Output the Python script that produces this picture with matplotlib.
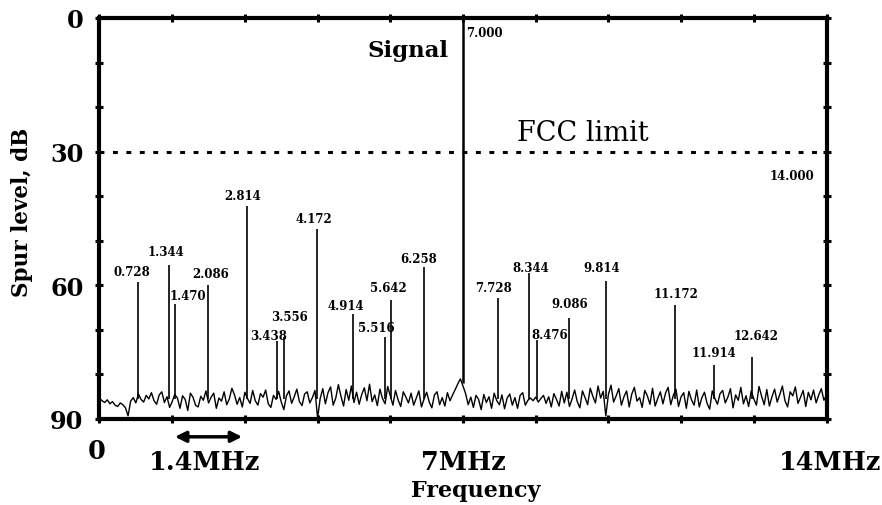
import numpy as np
import matplotlib
matplotlib.use("Agg")
import matplotlib.pyplot as plt

# noise floor, one value every 0.05 MHz (dB below signal)
noise_step = 0.05
noise_floor = [
    85.4, 85.9, 86.3, 85.7, 86.6, 86.1, 86.9, 87.2, 86.4, 86.8,
    87.5, 89.3, 86.0, 85.2, 86.4, 84.4, 85.6, 86.2, 84.7, 85.5,
    84.1, 85.9, 86.7, 84.6, 83.9, 86.3, 85.0, 87.4, 86.1, 84.5,
    85.3, 87.6, 84.8, 85.6, 88.1, 84.2, 85.1, 86.9, 87.3, 84.9,
    85.8, 83.7, 86.4, 85.1, 84.2, 87.6, 85.3, 86.0, 83.9, 86.8,
    85.5, 83.1, 84.6, 86.7, 85.2, 87.3, 84.0, 85.4, 86.5, 83.6,
    85.9, 86.9, 84.3, 85.1, 83.5, 86.6, 87.4, 84.7, 85.6, 83.8,
    86.2, 87.9, 84.8, 83.7, 86.5, 85.0, 83.3, 86.1, 87.0, 84.4,
    83.9, 86.4, 85.2, 83.6, 89.8, 85.4, 83.2, 86.6, 84.1, 82.8,
    86.9, 85.3, 82.3, 84.9, 87.1, 83.4, 85.8, 82.6, 86.3, 84.0,
    86.7, 84.5, 83.0, 85.9, 82.2, 86.1, 84.6, 87.0, 83.3, 85.4,
    86.6, 82.7, 84.8, 86.9, 83.6, 85.7, 87.2, 83.9, 85.1, 86.4,
    84.2, 86.9, 85.3, 83.7, 87.3, 85.5, 84.0, 86.2, 87.5, 84.6,
    83.9, 86.8, 85.2, 87.1, 84.1, 85.9, 84.6, 83.4, 82.1, 81.0,
    82.6, 84.3, 86.8, 85.1, 87.4, 84.7, 85.6, 87.9, 84.5, 86.3,
    85.0, 87.6, 84.2, 85.9, 86.8, 84.6, 87.7, 85.3, 84.4, 86.9,
    85.2, 87.6, 84.7, 84.1, 86.9, 85.8, 85.3, 85.9, 85.1, 86.2,
    85.4, 84.7, 86.5, 85.0, 87.3, 84.3, 85.6, 87.1, 83.8, 86.4,
    84.0, 87.2, 85.5, 83.5, 86.1, 87.5, 83.7, 85.2, 86.8, 83.1,
    84.9, 86.4, 82.6, 85.3, 83.8, 89.3, 84.5, 82.4, 86.2, 84.8,
    83.2, 86.9, 85.0, 83.7, 87.3, 84.4, 82.9, 86.0, 85.2, 87.4,
    83.6, 84.8, 86.7, 83.1, 87.1, 85.4, 83.9, 86.6, 84.2, 82.9,
    86.8, 84.7, 83.3, 87.2, 85.0, 84.1, 87.6, 83.8, 85.7, 86.9,
    83.5, 87.3, 85.2, 84.0, 86.5, 87.8, 83.7, 85.4, 86.7, 84.3,
    83.6, 86.4, 85.1, 83.2, 87.5, 84.6, 85.8, 82.9, 86.6, 84.8,
    87.2, 83.7, 85.5, 86.9, 82.7, 84.9, 86.8, 83.4, 87.1, 85.0,
    83.3, 86.2, 84.5, 82.6, 85.9, 87.3, 83.9, 84.8, 82.8, 86.5,
    85.1, 83.6, 87.2, 84.0, 85.7, 83.5, 86.4, 84.6, 83.2, 85.8,
    84.6,
]

# spurs: where the line sits, how high it goes, and its printed label
spur_freq = [0.74, 1.33, 1.46, 2.08, 2.84, 3.41, 3.55, 4.18, 4.88, 5.50,
             5.62, 6.24, 7.00, 7.67, 8.28, 8.43, 9.05, 9.75, 11.09,
             11.84, 12.57]
spur_level = [59.3, 55.4, 64.3, 60.0, 42.1, 72.6, 71.5, 47.3, 66.4, 71.5,
              63.4, 55.9, 0.0, 62.9, 57.2, 72.3, 67.3, 59.1, 64.5,
              77.8, 76.1]
spur_labels = ["0.728", "1.344", "1.470", "2.086", "2.814", "3.438",
               "3.556", "4.172", "4.914", "5.516", "5.642", "6.258",
               "7.000", "7.728", "8.344", "8.476", "9.086", "9.814",
               "11.172", "11.914", "12.642"]

fcc_limit = 30
x_labels = ["0", "1.4MHz", "7MHz", "14MHz"]
y_labels = ["0", "30", "60", "90"]

# where each spur label is written (MHz, dB)
label_pos = [(0.63, 57.0), (1.27, 52.5), (1.71, 62.3), (2.14, 57.4),
             (2.76, 39.9), (3.25, 71.2), (3.65, 67.1), (4.13, 45.1),
             (4.75, 64.5), (5.34, 69.4), (5.56, 60.6), (6.14, 54.0),
             (7.41, 3.2), (7.59, 60.4), (8.31, 55.9), (8.66, 71.1),
             (9.05, 64.1), (9.68, 56.1), (11.10, 61.9), (11.84, 75.0),
             (12.64, 71.2)]


def main():
    plt.rcParams['font.family'] = 'DejaVu Serif'
    plt.rcParams['font.weight'] = 'bold'

    fig = plt.figure(figsize=(8.82, 5.06), dpi=100)
    ax = fig.add_axes([0.1128, 0.170, 0.8243, 0.7925])

    freqs = np.arange(len(noise_floor)) * noise_step
    ax.plot(freqs, noise_floor, color='black', linewidth=1.0)

    # spur lines rise from the floor
    for f, lvl in zip(spur_freq, spur_level):
        lw = 1.8 if lvl == 0 else 1.2
        ax.vlines(f, 85.5 if lvl else 82.0, lvl, color='black', linewidth=lw)

    for (lx, ly), txt in zip(label_pos, spur_labels):
        ax.text(lx, ly, txt, fontsize=8.5, ha='center', va='center')
    ax.text(13.34, 35.4, "14.000", fontsize=8.5, ha='center', va='center')

    ax.axhline(fcc_limit, color='black', linewidth=2.2,
               linestyle=(0, (1.6, 2.8)))
    ax.text(5.94, 7.2, "Signal", fontsize=16.5, ha='center', va='center')
    ax.text(9.31, 25.8, "FCC limit", fontsize=19.5, fontweight='normal',
            ha='center', va='center')

    ax.set_xlim(0, 14)
    ax.set_ylim(90, 0)

    ax.set_xticks(np.arange(0, 14.01, 1.4))
    ax.set_xticklabels([])
    ax.set_yticks(np.arange(0, 91, 10))
    ax.set_yticklabels([y_labels[i // 3] if i % 3 == 0 else ''
                        for i in range(10)])
    ax.tick_params(axis='both', direction='inout', length=6, width=2.2,
                   top=True, right=True, labelsize=17.3, pad=8.5)
    for sp in ax.spines.values():
        sp.set_linewidth(3)

    # x labels are hand placed below the axis
    x_pos = [(-0.05, 97.1), (2.03, 99.6), (7.0, 99.6), (14.06, 99.6)]
    for (tx, ty), txt in zip(x_pos, x_labels):
        ax.text(tx, ty, txt, fontsize=18.4, ha='center', va='center',
                clip_on=False)
    ax.annotate('', xy=(1.4, 94), xytext=(2.8, 94),
                arrowprops=dict(arrowstyle='<|-|>', color='black', lw=2.5,
                                mutation_scale=16),
                annotation_clip=False)
    ax.text(7.24, 106, "Frequency", fontsize=16, ha='center', va='center',
            clip_on=False)
    fig.text(22 / 882, 1 - 212 / 506, "Spur level, dB", fontsize=15.5,
             rotation=90, ha='center', va='center')

    fig.savefig("out.png", dpi=100)


if __name__ == "__main__":
    main()
